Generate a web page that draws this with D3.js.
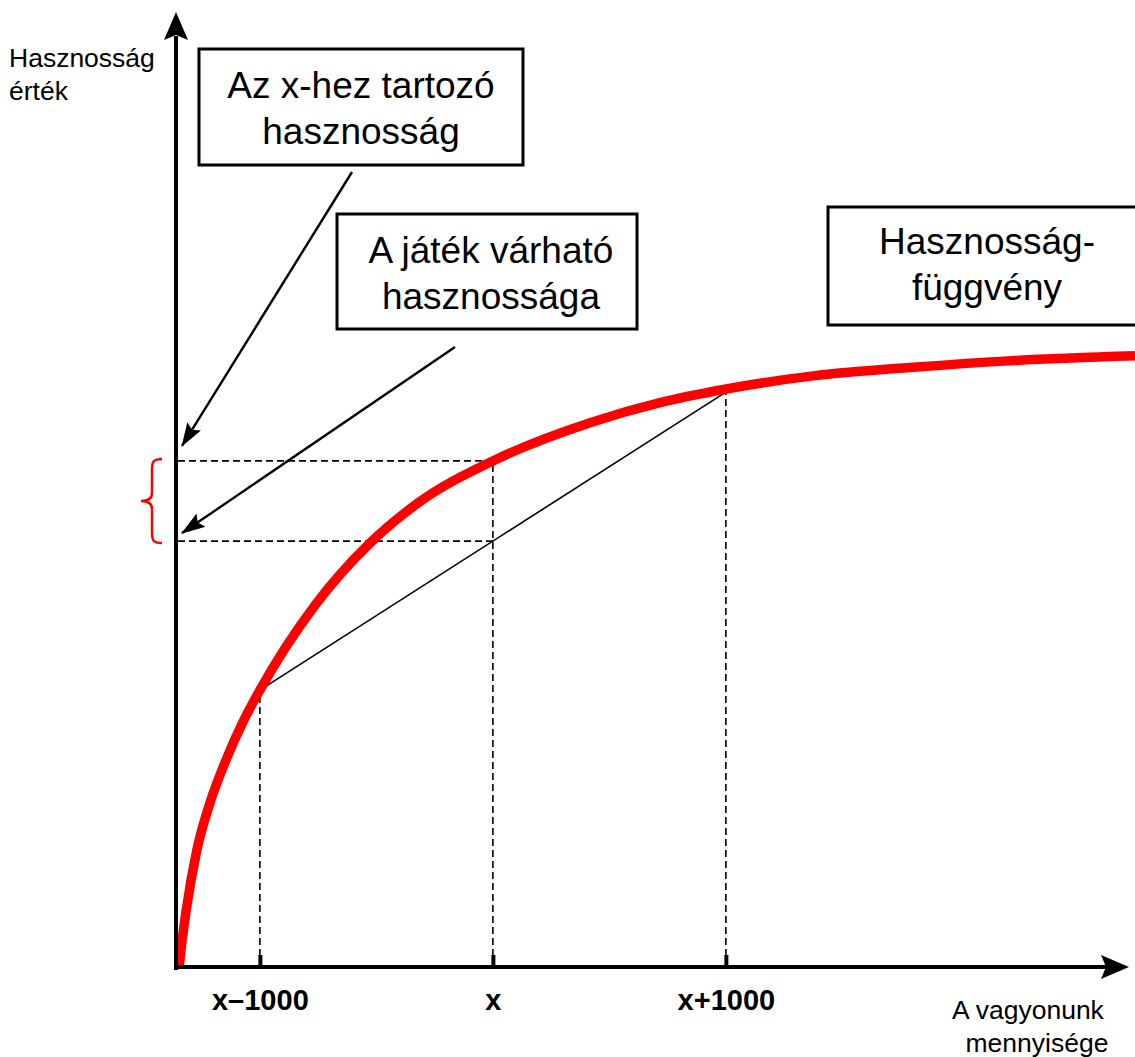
<!DOCTYPE html>
<html>
<head>
<meta charset="utf-8">
<script src="https://cdn.jsdelivr.net/npm/d3@7"></script>
<style>
  body { margin: 0; background: #fff; }
  svg { display: block; font-family: Arial, "Liberation Sans", Helvetica, sans-serif; }
</style>
</head>
<body>
<script>
(function(){

//curve points (wealth, utility)
var wealth  = [13, 21.5, 43, 90, 146, 215, 288, 360, 597, 833, 1039, 1360, 1777, 2077, 2356, 2734, 3163, 3592, 4116];
var utility = [0, 1.9, 5.9, 12.4, 17.3, 21.8, 25.8, 29.1, 38.0, 44.5, 48.7, 53.1, 57.1, 59.2, 60.6, 62.0, 62.9, 63.6, 64.1];

//the three marked wealth levels and the utility at each
var tickWealth = [360, 1360, 2360];
var tickLabels = ["x\u20131000", "x", "x+1000"];
var tickUtility = [29.1, 53.1, 60.3];

//text
var yLabel = ["Hasznosság", "érték"];
var xLabel = ["A vagyonunk", "mennyisége"];
var boxTexts = [
    ["Az x-hez tartozó", "hasznosság"],
    ["A játék várható", "hasznossága"],
    ["Hasznosság-", "függvény"]
];

var width = 1135, height = 1057;

var svg = d3.select("body").append("svg")
    .attr("width", width)
    .attr("height", height);

var x = d3.scaleLinear().domain([0, 4000]).range([176, 1108]);
var y = d3.scaleLinear().domain([0, 100]).range([968, 13]);

var defs = svg.append("defs");
defs.append("marker")
    .attr("id", "head")
    .attr("markerUnits", "userSpaceOnUse")
    .attr("viewBox", "0 -9 24 18")
    .attr("refX", 23).attr("refY", 0)
    .attr("markerWidth", 24).attr("markerHeight", 18)
    .attr("orient", "auto")
  .append("path")
    .attr("d", "M0,-8L24,0L0,8L4,0Z")
    .attr("fill", "#000");

//expected utility of the game = mean of the two outcomes
var expected = (tickUtility[0] + tickUtility[2]) / 2;

//dashed guides
var dash = svg.append("g")
    .attr("stroke", "#000")
    .attr("stroke-width", 1.6)
    .attr("stroke-dasharray", "7,4")
    .attr("fill", "none");

dash.selectAll(".vguide")
    .data(tickWealth)
    .enter().append("line")
    .attr("x1", function(d){ return x(d); })
    .attr("x2", function(d){ return x(d); })
    .attr("y1", y(0) - 12)
    .attr("y2", function(d, i){ return y(tickUtility[i]); });

dash.selectAll(".hguide")
    .data([tickUtility[1], expected])
    .enter().append("line")
    .attr("x1", x(0) + 2)
    .attr("x2", x(tickWealth[1]))
    .attr("y1", function(d){ return y(d); })
    .attr("y2", function(d){ return y(d); });

//chord between the two outcomes
svg.append("line")
    .attr("x1", x(tickWealth[0])).attr("y1", y(tickUtility[0]))
    .attr("x2", x(tickWealth[2])).attr("y2", y(tickUtility[2]))
    .attr("stroke", "#000")
    .attr("stroke-width", 1.6);

//utility function
var line = d3.line()
    .x(function(d){ return x(d[0]); })
    .y(function(d){ return y(d[1]); })
    .curve(d3.curveMonotoneX);

svg.append("path")
    .datum(wealth.map(function(w, i){ return [w, utility[i]]; }))
    .attr("d", line)
    .attr("fill", "none")
    .attr("stroke", "#ff0000")
    .attr("stroke-width", 9.5);

//axes
svg.append("line")
    .attr("x1", 176).attr("y1", y(0) + 2)
    .attr("x2", 176).attr("y2", 36)
    .attr("stroke", "#000").attr("stroke-width", 4);
svg.append("path")
    .attr("d", "M176,12L188,40L176,35L164,40Z")
    .attr("fill", "#000");

svg.append("line")
    .attr("x1", 174).attr("y1", y(0) - 1)
    .attr("x2", 1106).attr("y2", y(0) - 1)
    .attr("stroke", "#000").attr("stroke-width", 4);
svg.append("path")
    .attr("d", "M1129,967L1101,979L1106,967L1101,955Z")
    .attr("fill", "#000");

var xAxis = d3.axisBottom(x)
    .tickValues(tickWealth)
    .tickFormat(function(d, i){ return tickLabels[i]; })
    .tickSizeInner(-12)
    .tickSizeOuter(0)
    .tickPadding(22);

var gx = svg.append("g")
    .attr("transform", "translate(0," + (y(0) - 1) + ")")
    .call(xAxis);
gx.select(".domain").remove();
gx.selectAll(".tick line").attr("stroke", "#000").attr("stroke-width", 4);
gx.selectAll(".tick text")
    .attr("fill", "#000")
    .attr("font-family", "Arial, 'Liberation Sans', sans-serif")
    .attr("font-size", 29)
    .attr("font-weight", "bold");

//axis titles
svg.selectAll(".ylab")
    .data(yLabel)
    .enter().append("text")
    .attr("x", 9)
    .attr("y", function(d, i){ return 67 + i * 33; })
    .attr("font-size", 26.5)
    .text(function(d){ return d; });

var xLabelPos = [1028, 1037];
svg.selectAll(".xlab")
    .data(xLabel)
    .enter().append("text")
    .attr("x", function(d, i){ return xLabelPos[i]; })
    .attr("y", function(d, i){ return 1019 + i * 33; })
    .attr("text-anchor", "middle")
    .attr("font-size", 26.5)
    .text(function(d){ return d; });

//callout boxes
var boxes = [
    {x0: 199, y0: 49, x1: 523, y1: 165, cx: 361, base: 98},
    {x0: 337, y0: 214, x1: 637, y1: 329, cx: 491, base: 263},
    {x0: 828, y0: 207, x1: 1140, y1: 325, cx: 987, base: 254}
];

boxes.forEach(function(b, i){
    svg.append("rect")
        .attr("x", b.x0).attr("y", b.y0)
        .attr("width", b.x1 - b.x0).attr("height", b.y1 - b.y0)
        .attr("fill", "#fff")
        .attr("stroke", "#000")
        .attr("stroke-width", 3);
    svg.selectAll(".bt" + i)
        .data(boxTexts[i])
        .enter().append("text")
        .attr("x", b.cx)
        .attr("y", function(d, j){ return b.base + j * 46; })
        .attr("text-anchor", "middle")
        .attr("font-size", 37)
        .text(function(d){ return d; });
});

//arrows from the callouts to the y axis
svg.append("line")
    .attr("x1", 352).attr("y1", 172)
    .attr("x2", 182).attr("y2", y(tickUtility[1]) - 15)
    .attr("stroke", "#000").attr("stroke-width", 2.4)
    .attr("marker-end", "url(#head)");
svg.append("line")
    .attr("x1", 455).attr("y1", 347)
    .attr("x2", 182).attr("y2", y(expected) - 8)
    .attr("stroke", "#000").attr("stroke-width", 2.4)
    .attr("marker-end", "url(#head)");

//red brace spanning the two utilities
var top = y(tickUtility[1]) - 2, bot = y(expected) + 2, mid = (top + bot) / 2;
svg.append("path")
    .attr("d", "M162," + top + "C152," + top + " 152," + (top + 4) + " 152," + (top + 12) +
        "L152," + (mid - 8) + "C152," + (mid - 2) + " 148," + mid + " 141," + mid +
        "C148," + mid + " 152," + (mid + 2) + " 152," + (mid + 8) +
        "L152," + (bot - 12) + "C152," + (bot - 4) + " 152," + bot + " 162," + bot)
    .attr("fill", "none")
    .attr("stroke", "#ff0000")
    .attr("stroke-width", 2.5);

})();
</script>
</body>
</html>
